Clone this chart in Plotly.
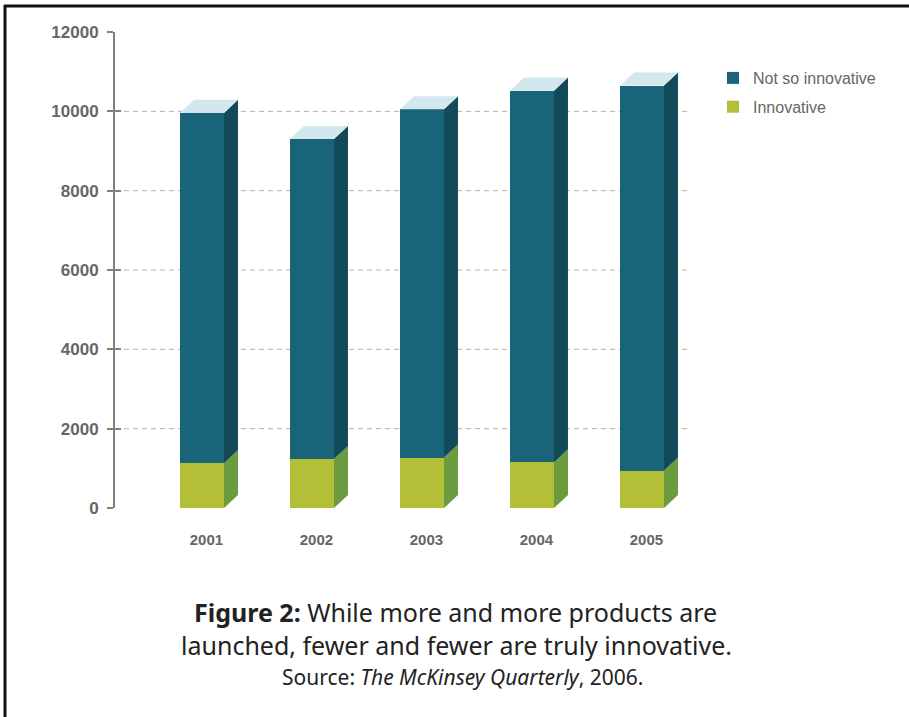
import plotly.graph_objects as go

# ---------------- data ----------------
years = ["2001", "2002", "2003", "2004", "2005"]
innovative = [1130, 1235, 1270, 1150, 940]
not_so_innovative = [8830, 8065, 8780, 9370, 9710]
y_ticks = [0, 2000, 4000, 6000, 8000, 10000, 12000]
y_tick_text = ["0", "2000", "4000", "6000", "8000", "10000", "12000"]
grid_vals = [2000, 4000, 6000, 8000, 10000]

# ---------------- style ----------------
W, H = 909, 717
L, R, T, B = 115, 690, 32, 508
BAR_W = 0.4
DX = 0.127          # 3D depth, category units
DY = 330            # 3D depth, value units
TEAL = "#1a6479"
TEAL_SIDE = "#124a5a"
TEAL_TOP = "#d2e8ee"
LIME = "#b3bf37"
LIME_SIDE = "#6b9a3f"
GRAY = "#666666"


def px(x):
    return (x - L) / (R - L)


def py(y):
    return (B - y) / (B - T)


xs = list(range(len(years)))
fig = go.Figure()

# front faces (stacked bars)
fig.add_trace(go.Bar(x=xs, y=innovative, name="Innovative", width=BAR_W,
                     legendgroup="inn",
                     marker=dict(color=LIME, line=dict(width=0)), legendrank=2))
fig.add_trace(go.Bar(x=xs, y=not_so_innovative, name="Not so innovative", width=BAR_W,
                     legendgroup="nsi",
                     marker=dict(color=TEAL, line=dict(width=0)), legendrank=1))

# 3D side and top faces, derived from the same data
for i, (a, b) in enumerate(zip(innovative, not_so_innovative)):
    xr = i + BAR_W / 2
    xl = i - BAR_W / 2
    top = a + b
    faces = [
        ([xr, xr + DX, xr + DX, xr, xr], [0, DY, a + DY, a, 0], LIME_SIDE, "inn"),
        ([xr, xr + DX, xr + DX, xr, xr], [a, a + DY, top + DY, top, a], TEAL_SIDE, "nsi"),
        ([xl, xl + DX, xr + DX, xr, xl], [top, top + DY, top + DY, top, top], TEAL_TOP, "nsi"),
    ]
    for fx, fy, col, grp in faces:
        fig.add_trace(go.Scatter(x=fx, y=fy, mode="lines", fill="toself",
                                 fillcolor=col, line=dict(width=0, color=col),
                                 legendgroup=grp, showlegend=False, hoverinfo="skip"))

# frame lines
shapes = [
    dict(type="line", xref="paper", yref="paper", x0=px(4), x1=px(W + 5),
         y0=py(6), y1=py(6), line=dict(color="#111111", width=3)),
    dict(type="line", xref="paper", yref="paper", x0=px(5), x1=px(5),
         y0=py(5), y1=py(H + 5), line=dict(color="#111111", width=3)),
]

annotations = [
    dict(xref="paper", yref="paper", x=px(455), y=py(612), xanchor="center", yanchor="middle",
         text="<b>Figure 2:</b> While more and more products are", showarrow=False,
         font=dict(family="Noto Sans", size=25, color="#222222")),
    dict(xref="paper", yref="paper", x=px(456), y=py(645), xanchor="center", yanchor="middle",
         text="launched, fewer and fewer are truly innovative.", showarrow=False,
         font=dict(family="Noto Sans", size=25, color="#222222")),
    dict(xref="paper", yref="paper", x=px(462), y=py(677), xanchor="center", yanchor="middle",
         text="Source: <i>The McKinsey Quarterly</i>, 2006.", showarrow=False,
         font=dict(family="Noto Sans", size=21, color="#222222")),
]

fig.update_layout(
    width=W, height=H,
    margin=dict(l=L, r=W - R, t=T, b=H - B, pad=0),
    paper_bgcolor="white", plot_bgcolor="white",
    barmode="stack", bargap=0,
    showlegend=True,
    legend=dict(x=px(713), y=py(61), xanchor="left", yanchor="top",
                font=dict(family="Liberation Sans, Arial", size=16, color=GRAY),
                bgcolor="rgba(0,0,0,0)", tracegroupgap=5, traceorder="grouped",
                itemwidth=30),
    xaxis=dict(range=[(L - 202) / 110, (R - 202) / 110], tickvals=[x + 0.04 for x in xs],
               ticktext=years, showgrid=False, zeroline=False, showline=False,
               ticks="", ticklabelstandoff=21,
               tickfont=dict(family="Liberation Sans, Arial", size=15, color=GRAY, weight="bold")),
    yaxis=dict(range=[0, 12000], tickvals=y_ticks, ticktext=y_tick_text,
               showgrid=False, zeroline=False,
               showline=True, linecolor="#808080", linewidth=2,
               ticks="outside", ticklen=6, tickwidth=2, tickcolor="#808080",
               ticklabelstandoff=5,
               tickfont=dict(family="Liberation Sans, Arial", size=17, color=GRAY, weight="bold")),
    yaxis2=dict(range=[0, 12000], overlaying="y", side="left", anchor="x", tickvals=y_ticks,
                showticklabels=False, ticks="inside", ticklen=6, tickwidth=2,
                tickcolor="#808080", showgrid=False, zeroline=False, showline=False),
    shapes=shapes,
    annotations=annotations,
)

# helper trace so the overlay axis (inner tick halves) is drawn
fig.add_trace(go.Scatter(x=[0], y=[0], yaxis="y2", mode="markers", marker=dict(opacity=0),
                         showlegend=False, hoverinfo="skip"))
# dashed interior gridlines
for g in grid_vals:
    fig.add_shape(type="line", xref="paper", yref="y", x0=0, x1=1, y0=g, y1=g,
                  line=dict(color="#c9a99d", width=1, dash="5px,4px"), layer="below")

fig.write_html("out.html")
